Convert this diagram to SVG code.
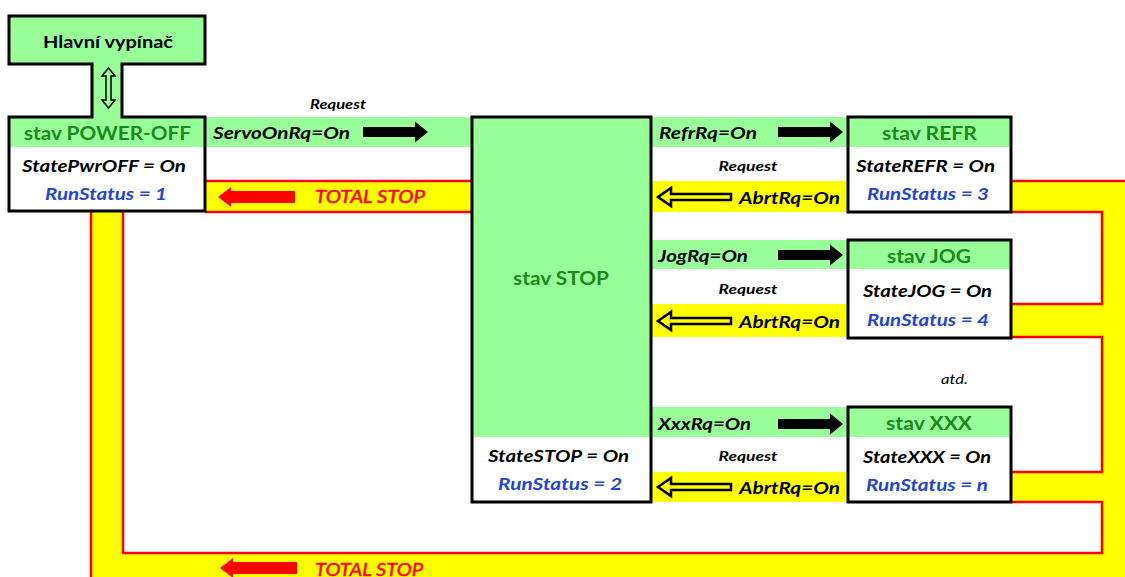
<svg xmlns="http://www.w3.org/2000/svg" width="1125" height="577" viewBox="0 0 1125 577">
<style>
text{font-family:Lato,"Open Sans","DejaVu Sans",sans-serif}
.g{fill:#99FF99}
.y{fill:#FFFF00}
.w{fill:#FFFFFF}
.red{fill:none;stroke:#FF0000;stroke-width:2.5}
.box{fill:none;stroke:#000;stroke-width:3}
.hd{font-size:18px;font-weight:bold;fill:#1A8A1A;text-anchor:middle}
.st{font-size:17px;font-weight:bold;font-style:italic;fill:#000;text-anchor:middle}
.rs{font-size:17px;font-weight:bold;font-style:italic;fill:#2244D8;text-anchor:middle}
.lb{font-size:17px;font-weight:bold;font-style:italic;fill:#000}
.rq{font-size:13px;font-weight:bold;font-style:italic;fill:#000;text-anchor:middle}
.ts{font-size:18px;font-style:italic;fill:#FF0000;stroke:#FF0000;stroke-width:0.5}
.tt{font-size:17px;font-weight:bold;fill:#000;text-anchor:middle}
.at{font-size:14px;font-style:italic;fill:#000}
</style>
<defs>
<polygon id="ab" points="0,-5 52,-5 52,-10.5 65,0 52,10.5 52,5 0,5" fill="#000"/>
<polygon id="ah" points="0,0 13,-9 13,-3 73,-3 73,3 13,3 13,9" fill="none" stroke="#000" stroke-width="2.5"/>
<polygon id="ar" points="0,0 13,-10 13,-6 77,-6 77,6 13,6 13,10" fill="#FF0000"/>
</defs>
<rect x="0" y="0" width="1125" height="577" fill="#FFFFFF"/>

<g id="bus">
<rect class="y" x="91" y="181" width="1040" height="400"/>
<rect class="w" x="123" y="212" width="437" height="341"/>
<rect class="w" x="123" y="502" width="979" height="51"/>
<rect class="w" x="560" y="212" width="542" height="92"/>
<rect class="w" x="560" y="337" width="542" height="135"/>
<path class="red" d="M205,181H472M1011,181H1130M91,211V580M205,212H472M123,211V553H1102V502H1011M1011,212H1102V304H1011M1011,337H1102V472H1011"/>
</g>

<g id="connectors">
<rect class="g" x="205" y="117" width="267" height="30"/>
<rect class="g" x="651" y="117" width="197" height="30"/>
<rect class="g" x="651" y="240" width="197" height="29"/>
<rect class="g" x="651" y="407" width="197" height="30"/>
<use href="#ab" x="363" y="132"/>
<use href="#ab" x="778" y="132"/>
<use href="#ab" x="778" y="255"/>
<use href="#ab" x="778" y="424"/>
<use href="#ah" x="658" y="197"/>
<use href="#ah" x="658" y="321"/>
<use href="#ah" x="658" y="487"/>
<use href="#ar" x="218" y="197"/>
<use href="#ar" x="220" y="568"/>
<text class="rq" x="338" y="109" textLength="56" lengthAdjust="spacingAndGlyphs">Request</text>
<text class="lb" x="213" y="139" textLength="137" lengthAdjust="spacingAndGlyphs">ServoOnRq=On</text>
<text class="ts" x="315" y="203" textLength="110" lengthAdjust="spacingAndGlyphs">TOTAL STOP</text>
<text class="ts" x="315" y="576" textLength="108" lengthAdjust="spacingAndGlyphs">TOTAL STOP</text>
<text class="lb" x="659" y="139" textLength="98" lengthAdjust="spacingAndGlyphs">RefrRq=On</text>
<text class="rq" x="748" y="171" textLength="59" lengthAdjust="spacingAndGlyphs">Request</text>
<text class="lb" x="739" y="204" textLength="101" lengthAdjust="spacingAndGlyphs">AbrtRq=On</text>
<text class="lb" x="658" y="262" textLength="90" lengthAdjust="spacingAndGlyphs">JogRq=On</text>
<text class="rq" x="748" y="294" textLength="59" lengthAdjust="spacingAndGlyphs">Request</text>
<text class="lb" x="739" y="328" textLength="101" lengthAdjust="spacingAndGlyphs">AbrtRq=On</text>
<text class="at" x="941" y="384" textLength="27" lengthAdjust="spacingAndGlyphs">atd.</text>
<text class="lb" x="658" y="430" textLength="93" lengthAdjust="spacingAndGlyphs">XxxRq=On</text>
<text class="rq" x="748" y="461" textLength="59" lengthAdjust="spacingAndGlyphs">Request</text>
<text class="lb" x="739" y="494" textLength="101" lengthAdjust="spacingAndGlyphs">AbrtRq=On</text>
</g>

<g id="node-poweroff">
<rect class="g" x="9" y="16" width="196" height="48"/>
<rect class="g" x="92" y="64" width="30" height="53"/>
<rect class="g" x="9" y="117" width="196" height="30"/>
<rect class="w" x="9" y="147" width="196" height="64"/>
<path class="box" d="M9,16H205V64H122V117H205V211H9V117H92V64H9Z"/>
<polygon points="108.5,68 115,76 111,76 111,100 115,100 108.5,108 102,100 106,100 106,76 102,76" fill="none" stroke="#000" stroke-width="1.5"/>
<text class="tt" x="108" y="48" textLength="130" lengthAdjust="spacingAndGlyphs">Hlavní vypínač</text>
<text class="hd" x="107.5" y="140" textLength="167" lengthAdjust="spacingAndGlyphs">stav POWER-OFF</text>
<text class="st" x="104" y="172" textLength="164" lengthAdjust="spacingAndGlyphs">StatePwrOFF = On</text>
<text class="rs" x="106" y="200" textLength="122" lengthAdjust="spacingAndGlyphs">RunStatus = 1</text>
</g>

<g id="node-stop">
<rect class="g" x="472" y="117" width="179" height="320"/>
<rect class="w" x="472" y="437" width="179" height="65"/>
<rect class="box" x="472" y="117" width="179" height="385"/>
<text class="hd" x="561" y="285" textLength="96" lengthAdjust="spacingAndGlyphs">stav STOP</text>
<text class="st" x="558.5" y="462" textLength="141" lengthAdjust="spacingAndGlyphs">StateSTOP = On</text>
<text class="rs" x="560" y="490" textLength="124" lengthAdjust="spacingAndGlyphs">RunStatus = 2</text>
</g>

<g id="node-refr">
<rect class="g" x="848" y="117" width="163" height="30"/>
<rect class="w" x="848" y="147" width="163" height="65"/>
<rect class="box" x="848" y="117" width="163" height="95"/>
<text class="hd" x="929.5" y="140" textLength="95" lengthAdjust="spacingAndGlyphs">stav REFR</text>
<text class="st" x="925.5" y="172" textLength="139" lengthAdjust="spacingAndGlyphs">StateREFR = On</text>
<text class="rs" x="928" y="200" textLength="122" lengthAdjust="spacingAndGlyphs">RunStatus = 3</text>
</g>

<g id="node-jog">
<rect class="g" x="848" y="240" width="163" height="29"/>
<rect class="w" x="848" y="269" width="163" height="69"/>
<rect class="box" x="848" y="240" width="163" height="98"/>
<text class="hd" x="929" y="263" textLength="84" lengthAdjust="spacingAndGlyphs">stav JOG</text>
<text class="st" x="927.5" y="297" textLength="129" lengthAdjust="spacingAndGlyphs">StateJOG = On</text>
<text class="rs" x="928" y="326" textLength="122" lengthAdjust="spacingAndGlyphs">RunStatus = 4</text>
</g>

<g id="node-xxx">
<rect class="g" x="848" y="407" width="163" height="30"/>
<rect class="w" x="848" y="437" width="163" height="65"/>
<rect class="box" x="848" y="407" width="163" height="95"/>
<text class="hd" x="929" y="430" textLength="86" lengthAdjust="spacingAndGlyphs">stav XXX</text>
<text class="st" x="927" y="463" textLength="128" lengthAdjust="spacingAndGlyphs">StateXXX = On</text>
<text class="rs" x="927" y="491" textLength="122" lengthAdjust="spacingAndGlyphs">RunStatus = n</text>
</g>
</svg>
